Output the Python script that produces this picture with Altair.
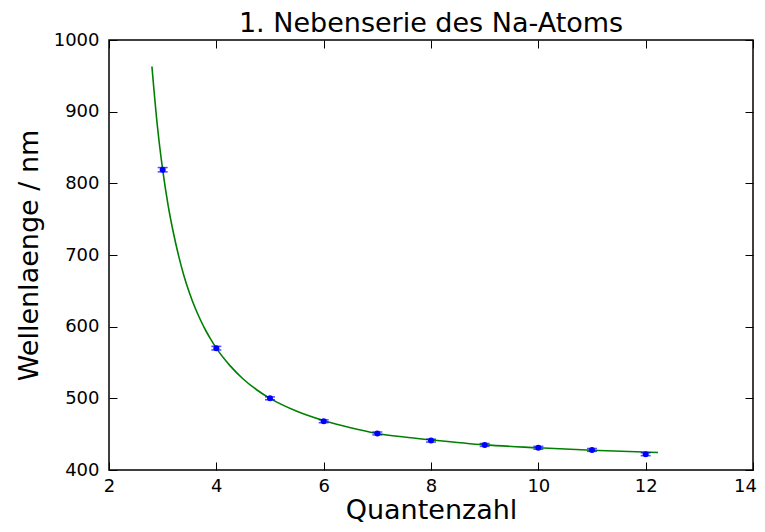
import altair as alt
import pandas as pd

# measured data points (quantum number, wavelength in nm, error)
n_vals = [3, 4, 5, 6, 7, 8, 9, 10, 11, 12]
lam_vals = [819, 570, 500, 468, 451, 441, 435, 431, 428, 422]
err_vals = [3, 2.5, 2, 2, 2, 2, 2, 2, 2, 2]

# fit curve
fit_n = [2.80, 2.90, 3.00, 3.10, 3.20, 3.30, 3.40, 3.50, 3.60, 3.70, 3.80, 3.90,
         4.00, 4.25, 4.50, 4.75, 5.00, 5.50, 6.00, 6.50, 7.00, 7.50, 8.00,
         9.00, 10.00, 11.00, 12.23]
fit_lam = [963, 881, 819, 770, 731, 698, 670, 647, 627, 610, 595, 582,
           570, 546, 527, 512, 500, 482, 469, 459, 451, 446, 442,
           435, 431, 427.5, 424.5]

x_ticks = [2, 4, 6, 8, 10, 12, 14]
y_ticks = [400, 500, 600, 700, 800, 900, 1000]

pts = pd.DataFrame({
    "n": n_vals,
    "lam": lam_vals,
    "lo": [l - e for l, e in zip(lam_vals, err_vals)],
    "hi": [l + e for l, e in zip(lam_vals, err_vals)],
})
fit = pd.DataFrame({"n": fit_n, "lam": fit_lam})

FONT = "DejaVu Sans"
xs = alt.Scale(domain=[2, 14], nice=False, zero=False)
ys = alt.Scale(domain=[400, 1000], nice=False, zero=False)

common = dict(grid=False, domain=False, tickSize=8, offset=-8, tickColor="black",
              tickWidth=1, labelColor="black", titleColor="black",
              labelFont=FONT, titleFont=FONT, labelFontSize=18, titleFontSize=27,
              titleFontWeight="normal", labelOverlap=False, labelFlush=False)

x_bottom = alt.Axis(title="Quantenzahl", values=x_ticks, format="d", orient="bottom",
                    labelPadding=7, titlePadding=2,
                    labelOffset={"condition": {"test": "datum.value == 14", "value": -8}, "value": 0},
                    **common)
y_left = alt.Axis(title="Wellenlaenge / nm", values=y_ticks, format="d", orient="left",
                  labelPadding=10, titlePadding=10, **common)
x_top = alt.Axis(title=None, values=x_ticks, orient="top", labels=False,
                 grid=False, domain=False, tickSize=8, offset=-8, tickColor="black")
y_right = alt.Axis(title=None, values=y_ticks, orient="right", labels=False,
                   grid=False, domain=False, tickSize=8, offset=-8, tickColor="black")

line = alt.Chart(fit).mark_line(color="#008000", strokeWidth=1.6, interpolate="monotone").encode(
    x=alt.X("n:Q", scale=xs, axis=x_top),
    y=alt.Y("lam:Q", scale=ys, axis=y_right),
)

bars = alt.Chart(pts).mark_rule(color="#0000ff", strokeWidth=1.5).encode(
    x=alt.X("n:Q", scale=xs, axis=None),
    y=alt.Y("lo:Q", scale=ys, axis=None),
    y2="hi:Q",
)
caps_lo = alt.Chart(pts).mark_tick(color="#0000ff", orient="horizontal", size=10, thickness=1.5).encode(
    x=alt.X("n:Q", scale=xs, axis=None),
    y=alt.Y("lo:Q", scale=ys, axis=None),
)
caps_hi = alt.Chart(pts).mark_tick(color="#0000ff", orient="horizontal", size=10, thickness=1.5).encode(
    x=alt.X("n:Q", scale=xs, axis=None),
    y=alt.Y("hi:Q", scale=ys, axis=None),
)
dots = alt.Chart(pts).mark_circle(color="#0000ff", size=36, opacity=1).encode(
    x=alt.X("n:Q", scale=xs, axis=x_bottom),
    y=alt.Y("lam:Q", scale=ys, axis=y_left),
)

chart = alt.layer(line, bars, caps_lo, caps_hi, dots).resolve_axis(
    x="independent", y="independent"
).properties(
    width=644,
    height=430,
    title=alt.TitleParams("1. Nebenserie des Na-Atoms", font=FONT, fontSize=27,
                          fontWeight="normal", color="black", anchor="middle",
                          frame="group", offset=-7),
    autosize=alt.AutoSizeParams(type="none"),
    padding={"left": 101, "top": 32, "right": 4, "bottom": 54},
    background="white",
).configure_view(stroke="black", strokeWidth=1.5)

chart.save("out.html", embed_options={"renderer": "svg", "actions": False})
